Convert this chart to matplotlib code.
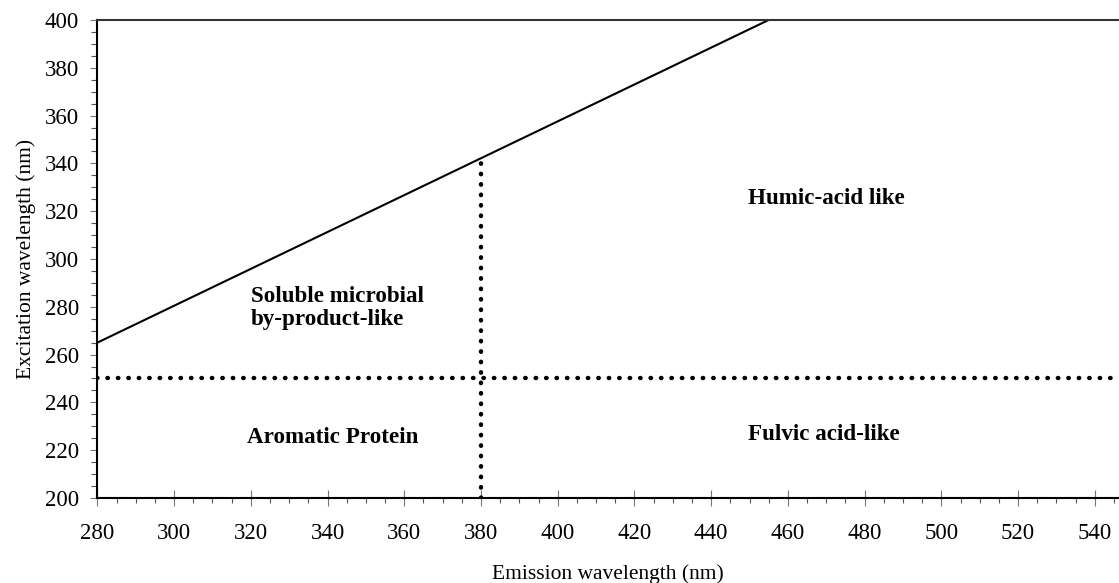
import numpy as np
import matplotlib
matplotlib.use('Agg')
from matplotlib import pyplot as plt
from matplotlib.ticker import MultipleLocator

########################################################################################################################
# Regioes de fluorescencia (EEM) - limites em nm
limite_ex = [265, 400]          # linha Ex/Em: excitacao nas pontas
limite_em = [280, 455]          # linha Ex/Em: emissao nas pontas
corte_em = 380                   # corte vertical na emissao
corte_ex = 250                   # corte horizontal na excitacao
regioes = ['Soluble microbial\nby-product-like', 'Aromatic Protein', 'Humic-acid like', 'Fulvic acid-like']
regioes_em = [320, 319, 449.5, 449.5]
regioes_ex = [279.5, 225.5, 325.5, 226.5]

########################################################################################################################
plt.rcParams['font.family'] = ['Liberation Serif', 'DejaVu Serif']

fig = plt.figure(figsize=(11.19, 5.83), dpi=100)
ax = fig.add_axes([0.087, 0.1458, 0.913, 0.82])

# linha continua da fronteira
ax.plot(limite_em, limite_ex, color='black', lw=1.5, solid_capstyle='butt')

# ex na emissao de corte, sobre a linha continua
ex_corte = np.interp(corte_em, limite_em, limite_ex)
pontilhado = dict(color='black', lw=3.2, linestyle=(0, (0.1, 2.25)), dash_capstyle='round')
ax.plot([corte_em, corte_em], [200, ex_corte], **pontilhado)
ax.plot([280, 546.3], [corte_ex, corte_ex], **pontilhado)

for txt, x, y in zip(regioes, regioes_em, regioes_ex):
    ax.text(x, y, txt, fontsize=16.6, fontweight='bold', ha='left', va='center', linespacing=1.1)

ax.set_xlim(280, 546.3)
ax.set_ylim(200, 400)
ax.xaxis.set_major_locator(MultipleLocator(20))
ax.xaxis.set_minor_locator(MultipleLocator(5))
ax.yaxis.set_major_locator(MultipleLocator(20))
ax.yaxis.set_minor_locator(MultipleLocator(5))

ax.tick_params(axis='x', which='major', direction='inout', length=11.5, width=0.8, color='#777777',
               labelsize=16.5, pad=12)
ax.tick_params(axis='x', which='minor', direction='out', length=3.6, width=0.8, color='#555555')
ax.tick_params(axis='y', which='major', direction='out', length=5.3, width=0.8, color='#777777',
               labelsize=16.5, pad=8)
ax.tick_params(axis='y', which='minor', direction='out', length=4.2, width=0.8, color='#555555')

for lado in ['left', 'bottom', 'top']:
    ax.spines[lado].set_linewidth(1.5)
ax.spines['top'].set_color('#333333')
ax.spines['right'].set_visible(False)

ax.set_xlabel('Emission wavelength (nm)', fontsize=15.5, labelpad=15)
ax.set_ylabel('Excitation wavelength (nm)', fontsize=15.5, labelpad=6)

plt.savefig('out.png', dpi=100)
